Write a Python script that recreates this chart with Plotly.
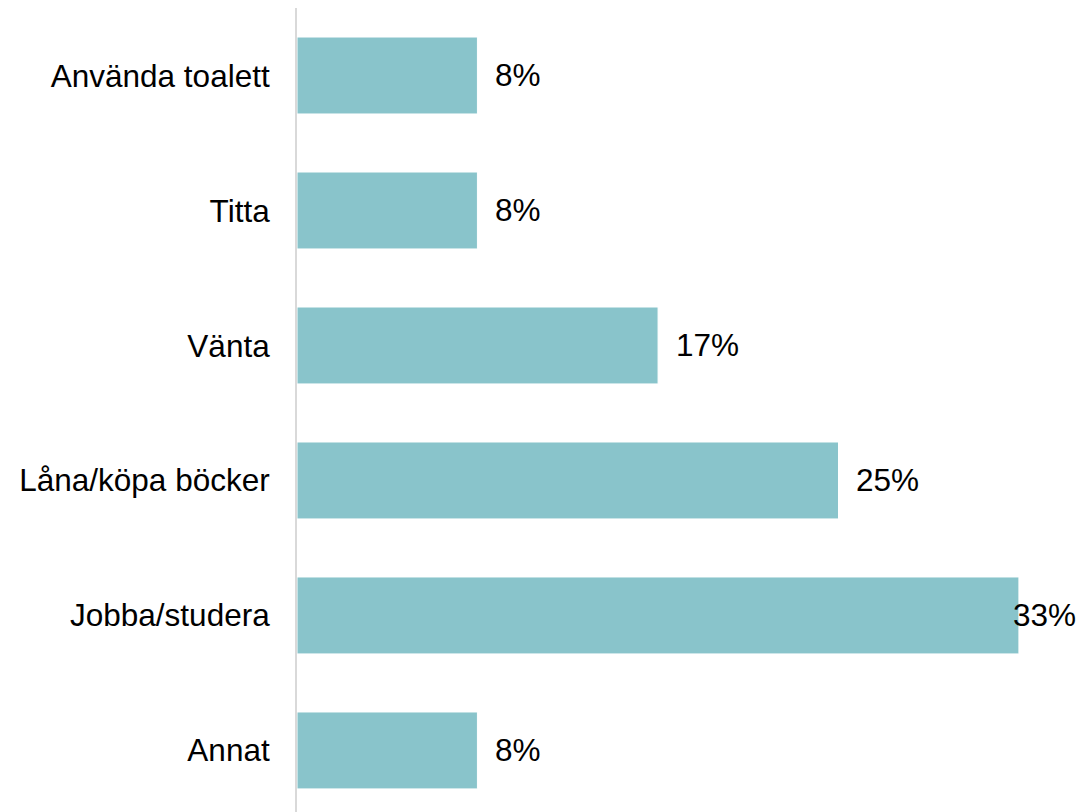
import plotly.graph_objects as go

# categories top to bottom, shares in percent
categories = ["Använda toalett", "Titta", "Vänta", "Låna/köpa böcker", "Jobba/studera", "Annat"]
shares = [8.33, 8.33, 16.67, 25.0, 33.33, 8.33]
labels = ["8%", "8%", "17%", "25%", "33%", "8%"]

BAR = "#89c4cb"
FONT = "Liberation Sans, Arial, sans-serif"
SIZE = 31.5

fig = go.Figure(go.Bar(
    x=shares, y=categories, orientation="h",
    marker=dict(color=BAR, line=dict(color="white", width=1)),
    width=0.57, hoverinfo="skip",
))

# value labels sit just right of each bar; the widest one is nudged back onto the bar end
for cat, v, lbl in zip(categories, shares, labels):
    fig.add_annotation(
        x=v, y=cat, text=lbl, showarrow=False, xanchor="left",
        xshift=-8 if v == max(shares) else 16,
        font=dict(family=FONT, size=SIZE, color="black"),
    )

fig.update_layout(
    width=1080, height=812,
    paper_bgcolor="white", plot_bgcolor="white",
    margin=dict(l=297, r=0, t=8, b=0),
    showlegend=False,
    font=dict(family=FONT, size=SIZE, color="black"),
    xaxis=dict(visible=False, range=[0, 36.15]),
    yaxis=dict(
        categoryorder="array", categoryarray=categories,
        range=[5.456, -0.5], showgrid=False, ticks="",
        showline=True, linecolor="#d9d9d9", linewidth=2,
        ticklabelstandoff=19,
        tickfont=dict(family=FONT, size=SIZE, color="black"),
    ),
)

# drop the default page margin so the 1080x812 figure fills the window exactly
fig.write_html(
    "out.html",
    config={"displayModeBar": False},
    post_script="document.body.style.margin='0';document.body.style.overflow='hidden';",
)
